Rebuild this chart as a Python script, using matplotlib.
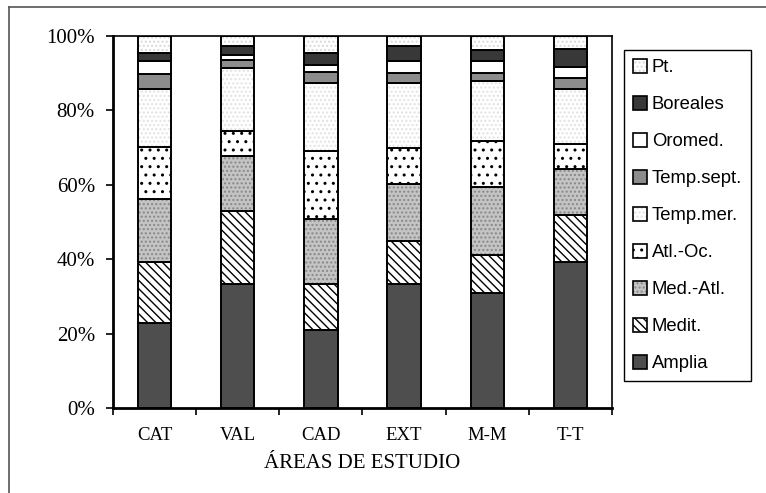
import matplotlib.pyplot as plt
import numpy as np

areas = ['CAT', 'VAL', 'CAD', 'EXT', 'M-M', 'T-T']
grupos = ['Amplia', 'Medit.', 'Med.-Atl.', 'Atl.-Oc.', 'Temp.mer.',
          'Temp.sept.', 'Oromed.', 'Boreales', 'Pt.']

# porcentaje de cada grupo por área (orden de areas)
amplia = [22.9, 33.3, 21.0, 33.3, 30.8, 39.3]
medit = [16.4, 19.7, 12.3, 11.7, 10.3, 12.6]
med_atl = [16.9, 14.7, 17.5, 15.1, 18.4, 12.3]
atl_oc = [14.0, 6.8, 18.4, 9.9, 12.3, 6.7]
temp_mer = [15.5, 16.8, 18.2, 17.3, 16.2, 14.8]
temp_sept = [4.1, 2.2, 2.9, 2.8, 2.0, 2.9]
oromed = [3.5, 1.4, 1.9, 3.2, 3.3, 3.1]
boreales = [2.0, 2.4, 3.1, 4.0, 2.9, 4.7]
pt = [4.7, 2.7, 4.7, 2.7, 3.8, 3.6]

series = [amplia, medit, med_atl, atl_oc, temp_mer,
          temp_sept, oromed, boreales, pt]

# relleno, trama, color de trama
estilos = [
    ('#4e4e4e', '', '#4e4e4e'),
    ('white', '\\\\\\\\', 'black'),
    ('#c4c4c4', '....', '#888888'),
    ('white', '..', 'black'),
    ('white', '....', '#e2e2e2'),
    ('#8c8c8c', '', '#8c8c8c'),
    ('white', '', 'white'),
    ('#383838', '', '#383838'),
    ('white', '....', '#dadada'),
]

plt.rcParams['hatch.linewidth'] = 1.0

fig = plt.figure(figsize=(7.66, 4.93), dpi=100)
ax = fig.add_axes([113 / 766, 85 / 493, 499 / 766, 372 / 493])

x = np.arange(len(areas))
bottom = np.zeros(len(areas))
handles = []
for nombre, vals, (fc, hatch, hc) in zip(grupos, series, estilos):
    vals = np.array(vals, dtype=float)
    ax.bar(x, vals, 0.4, bottom=bottom, color=fc, hatch=hatch,
           edgecolor=hc, linewidth=0)
    ax.bar(x, vals, 0.4, bottom=bottom, fill=False,
           edgecolor='black', linewidth=1.4, label=nombre)
    # relleno con su trama + borde negro encima
    relleno = plt.Rectangle((0, 0), 1, 1, facecolor=fc, hatch=hatch,
                            edgecolor=hc, linewidth=0)
    borde = plt.Rectangle((0, 0), 1, 1, fill=False, edgecolor='black',
                          linewidth=1.2)
    handles.append((relleno, borde))
    bottom += vals

ax.set_xlim(-0.5, len(areas) - 0.5)
ax.set_ylim(0, 100)
ax.set_yticks(np.arange(0, 101, 20))
ax.set_yticklabels([f'{v}%' for v in range(0, 101, 20)],
                   family='Liberation Serif', fontsize=15)
ax.set_xticks(x)
ax.set_xticklabels(areas, family='Liberation Serif', fontsize=13.5)
ax.set_xticks(np.arange(-0.5, len(areas), 1), minor=True)
ax.tick_params(axis='x', which='major', length=0, pad=14)
ax.tick_params(axis='x', which='minor', length=5, width=1.2, direction='out')
ax.tick_params(axis='y', length=5, width=1.2, direction='out', pad=8)
ax.set_xlabel('ÁREAS DE ESTUDIO', family='Liberation Serif', fontsize=15,
              labelpad=7)
for s in ax.spines.values():
    s.set_linewidth(1.2)
ax.spines['left'].set_linewidth(2)
ax.spines['bottom'].set_linewidth(2)

leg = fig.legend(handles[::-1], grupos[::-1], loc='upper left',
                 bbox_to_anchor=(624 / 766, 1 - 50 / 493),
                 prop={'family': 'Liberation Sans', 'size': 13.3},
                 frameon=True, fancybox=False, framealpha=1,
                 edgecolor='black', handlelength=0.75, handleheight=0.75,
                 handletextpad=0.25, labelspacing=1.07, borderpad=0.5,
                 borderaxespad=0)
leg.get_frame().set_linewidth(1.0)

# marco exterior del gráfico
fig.add_artist(plt.Line2D([9 / 766, 9 / 766], [0, 1 - 7 / 493],
                          color='#555555', linewidth=1.2))
fig.add_artist(plt.Line2D([9 / 766, 1], [1 - 7 / 493, 1 - 7 / 493],
                          color='#555555', linewidth=1.2))

fig.savefig('out.png', dpi=100)
